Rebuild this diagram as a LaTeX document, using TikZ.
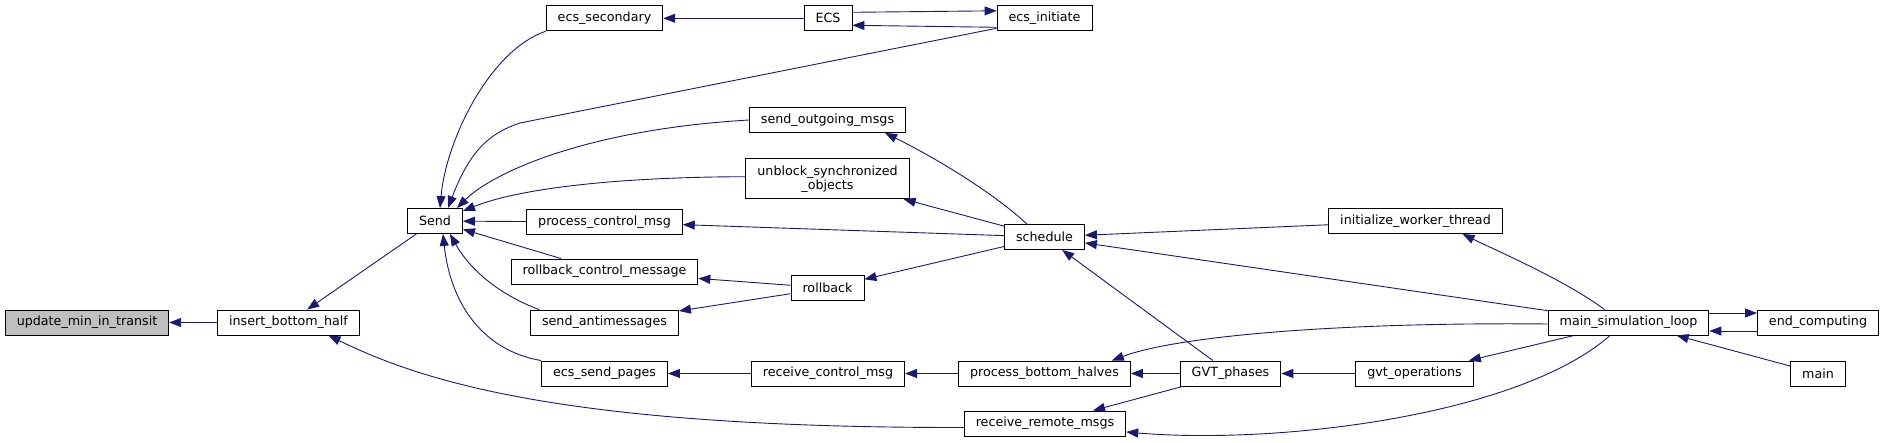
\documentclass[tikz,border=0pt]{standalone}
\usepackage{fontspec}
\setmainfont{DejaVu Sans}
\usepackage{tikz}
\usetikzlibrary{arrows.meta}
\definecolor{edgeblue}{HTML}{191970}

\begin{document}
\begin{tikzpicture}[x=1pt, y=-1pt, every node/.style={font=\fontsize{12.7}{14}\selectfont}]
        \tikzstyle{fn} = [draw, rectangle, fill=white, minimum height=25pt, inner xsep=11.5pt, inner ysep=0pt, line width=0.9pt, align=center]
        \tikzstyle{call} = [<-, >={Triangle[length=12pt, width=9pt]}, draw=edgeblue, line width=0.9pt]
        \useasboundingbox (0,0) rectangle (1884,443);
        % functions
        \node[fn, fill=gray!50] (umt) at (87,322.5) {update\_min\_in\_transit};
        \node[fn] (ibh) at (288.5,322.5) {insert\_bottom\_half};
        \node[fn] (snd) at (435,221) {Send};
        \node[fn] (ecs2) at (604.5,18.3) {ecs\_secondary};
        \node[fn] (ECS) at (828,18.3) {ECS};
        \node[fn] (ecsi) at (1044.5,18.3) {ecs\_initiate};
        \node[fn] (som) at (827.5,120) {send\_outgoing\_msgs};
        \node[fn, minimum height=40pt] (uso) at (827.5,178.7) {unblock\_synchronized\\\_objects};
        \node[fn] (pcm) at (604.5,222) {process\_control\_msg};
        \node[fn] (rcm) at (604.5,271.5) {rollback\_control\_message};
        \node[fn] (sam) at (604.5,322.5) {send\_antimessages};
        \node[fn] (esp) at (604.5,373.5) {ecs\_send\_pages};
        \node[fn] (rb) at (827.5,288) {rollback};
        \node[fn] (rcv) at (828,373.5) {receive\_control\_msg};
        \node[fn] (sch) at (1044.5,237) {schedule};
        \node[fn] (pbh) at (1044.5,373.5) {process\_bottom\_halves};
        \node[fn] (rrm) at (1045,423.5) {receive\_remote\_msgs};
        \node[fn] (gvtp) at (1230.5,373.5) {GVT\_phases};
        \node[fn] (gvto) at (1414.5,373.5) {gvt\_operations};
        \node[fn] (iwt) at (1415.5,221) {initialize\_worker\_thread};
        \node[fn] (msl) at (1628.5,322.5) {main\_simulation\_loop};
        \node[fn] (ec) at (1818,322.5) {end\_computing};
        \node[fn] (mn) at (1818,373.5) {main};
        % calls, arrow at the callee
        \draw[call] (umt) -- (ibh);
        \draw[call] (ibh) -- (snd);
        \draw[call] ([xshift=40pt]ibh.south) .. controls (420,380) and (560,428) .. ([yshift=-4pt]rrm.west);
        \draw[call] ([xshift=5pt]snd.north) .. controls (446,140) and (490,50) .. (ecs2.south west);
        \draw[call] ([xshift=13pt]snd.north) .. controls (470,150) and (490,133) .. (520,123) -- ([yshift=-10pt]ecsi.west);
        \draw[call] ([xshift=22pt]snd.north) .. controls (490,175) and (580,130) .. (som.west);
        \draw[call] ([yshift=10pt]snd.east) .. controls (520,188) and (620,177) .. ([yshift=2pt]uso.west);
        \draw[call] (snd) -- (pcm);
        \draw[call] (snd) -- (rcm);
        \draw[call] ([xshift=15pt]snd.south) .. controls (470,270) and (500,295) .. ([xshift=9pt]sam.north west);
        \draw[call] ([xshift=8pt]snd.south) .. controls (450,300) and (480,350) .. (esp.north west);
        \draw[call] (ecs2) -- (ECS);
        \draw[call] ([yshift=7.5pt]ecsi.west) -- ([yshift=6pt]ECS.east);
        \draw[call] ([yshift=-7pt]ECS.east) -- ([yshift=-9pt]ecsi.west);
        \draw[call] ([xshift=57.5pt]som.south) .. controls (930,155) and (990,190) .. ([xshift=-17.5pt]sch.north);
        \draw[call] (uso) -- (sch);
        \draw[call] (pcm) -- (sch);
        \draw[call] (rcm) -- (rb);
        \draw[call] (sam) -- (rb);
        \draw[call] (rb) -- (sch);
        \draw[call] (esp) -- (rcv);
        \draw[call] (rcv) -- (pbh);
        \draw[call] (pbh) -- (gvtp);
        \draw[call] (rrm) -- (gvtp);
        \draw[call] (sch) -- (gvtp);
        \draw[call] (sch) -- (iwt);
        \draw[call] (sch) -- (msl);
        \draw[call] (gvtp) -- (gvto);
        \draw[call] (gvto) -- (msl);
        \draw[call] ([xshift=47pt]iwt.south) .. controls (1495,250) and (1565,280) .. ([xshift=-24pt]msl.north);
        \draw[call] ([xshift=-19pt]pbh.north east) .. controls (1180,335) and (1350,322) .. ([yshift=-1.5pt]msl.west);
        \draw[call] ([yshift=-8.5pt]rrm.east) .. controls (1280,445) and (1520,415) .. ([xshift=-18.5pt]msl.south);
        \draw[call] ([yshift=9.5pt]ec.west) -- ([yshift=9.5pt]msl.east);
        \draw[call] ([yshift=-8.5pt]msl.east) -- ([yshift=-8.5pt]ec.west);
        \draw[call] (msl) -- (mn);
\end{tikzpicture}
\end{document}
